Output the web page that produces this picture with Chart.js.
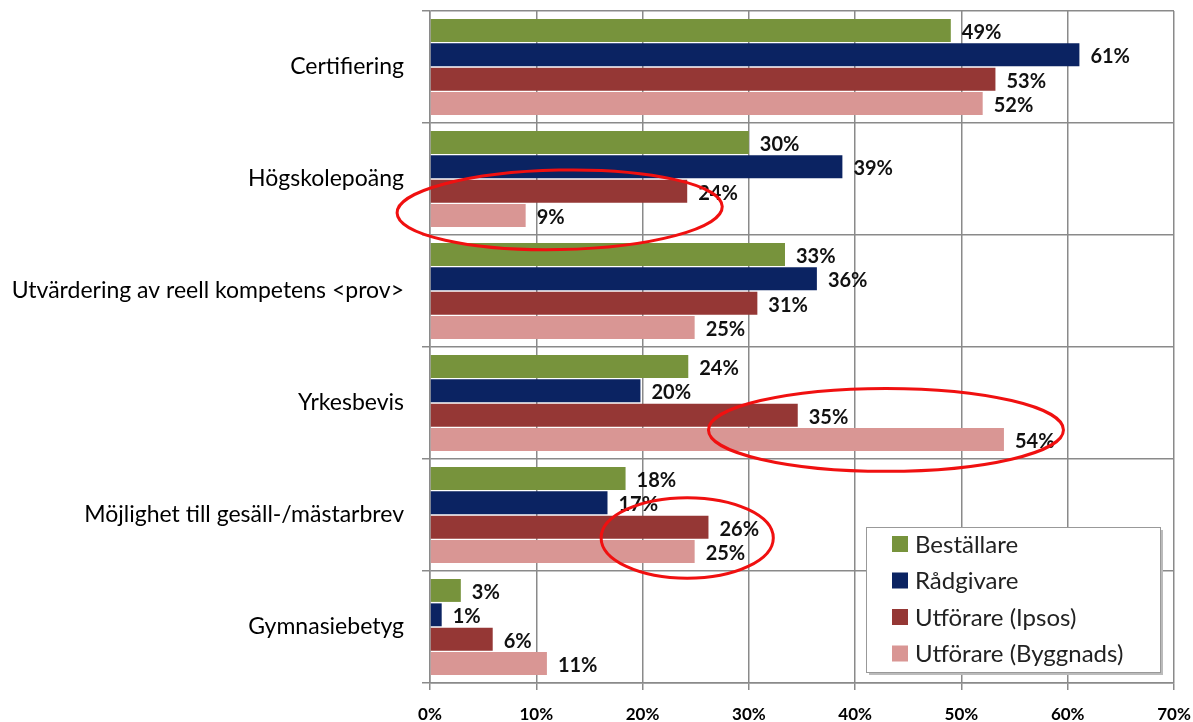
<!DOCTYPE html>
<html><head><meta charset="utf-8">
<script src="https://cdn.jsdelivr.net/npm/chart.js@4.4.1/dist/chart.umd.min.js"></script>
<style>html,body{margin:0;background:#fff}#wrap{width:1193px;height:722px}</style>
</head><body><div id="wrap"><canvas id="c"></canvas></div>
<script>
const categories = ['Certifiering', 'Högskolepoäng', 'Utvärdering av reell kompetens <prov>', 'Yrkesbevis', 'Möjlighet till gesäll-/mästarbrev', 'Gymnasiebetyg'];
const seriesNames = ['Beställare', 'Rådgivare', 'Utförare (Ipsos)', 'Utförare (Byggnads)'];
const bestallare = [49.0, 30.0, 33.4, 24.3, 18.4, 2.9];
const radgivare = [61.1, 38.8, 36.4, 19.8, 16.7, 1.1];
const ipsos = [53.2, 24.2, 30.8, 34.6, 26.2, 5.9];
const byggnads = [52.0, 9.0, 24.9, 54.0, 24.9, 11.0];
const colors = ['#77933C', '#0B2362', '#953735', '#D99694'];
const xMax = 70, xStep = 10;

// red rings drawn on top: category, centre (%), half width (%), offset & half height (share of a category band)
const ringCategory = [1, 3, 4];
const ringCenter = [12.2, 42.9, 24.2];
const ringHalfWidth = [15.3, 16.7, 8.1];
const ringOffset = [0.275, 0.24, 0.205];
const ringHalfHeight = [0.355, 0.37, 0.36];
const ringTilt = [-0.02, 0, 0];

const FONT = 'Lato, "Open Sans", sans-serif';

const valueLabels = {
  id: 'valueLabels',
  afterDatasetsDraw(chart) {
    const ctx = chart.ctx;
    ctx.save();
    ctx.font = 'bold 20px ' + FONT;
    ctx.fillStyle = '#111';
    ctx.textBaseline = 'middle';
    chart.data.datasets.forEach((d, i) => {
      chart.getDatasetMeta(i).data.forEach((bar, j) => {
        ctx.fillText(Math.round(d.data[j]) + '%', bar.x + 11, bar.y + 2);
      });
    });
    ctx.restore();
  }
};

const rings = {
  id: 'rings',
  afterDraw(chart) {
    const ctx = chart.ctx, x = chart.scales.x, y = chart.scales.y;
    const band = y.height / categories.length;
    ctx.save();
    ctx.strokeStyle = '#F01010';
    ctx.lineWidth = 3;
    ringCategory.forEach((c, i) => {
      const cx = x.getPixelForValue(ringCenter[i]);
      const rx = x.getPixelForValue(ringCenter[i] + ringHalfWidth[i]) - cx;
      const cy = y.getPixelForValue(c) + ringOffset[i] * band;
      ctx.beginPath();
      ctx.ellipse(cx, cy, rx, ringHalfHeight[i] * band, ringTilt[i], 0, Math.PI * 2);
      ctx.stroke();
    });
    ctx.restore();
  }
};

const boxLegend = {
  id: 'boxLegend',
  afterDraw(chart) {
    const ctx = chart.ctx;
    const left = 866, top = 527, w = 294, h = 145;
    ctx.save();
    ctx.fillStyle = '#bbb';
    ctx.fillRect(left + 3, top + 3, w, h);
    ctx.fillStyle = '#fff';
    ctx.fillRect(left, top, w, h);
    ctx.strokeStyle = '#999';
    ctx.lineWidth = 1;
    ctx.strokeRect(left + 0.5, top + 0.5, w, h);
    ctx.font = '24px ' + FONT;
    ctx.textBaseline = 'middle';
    seriesNames.forEach((n, i) => {
      const yy = top + 17 + i * 36.5;
      ctx.fillStyle = colors[i];
      ctx.fillRect(left + 26, yy - 8, 16, 16);
      ctx.fillStyle = '#222';
      ctx.fillText(n, left + 49, yy + 1);
    });
    ctx.restore();
  }
};

const noEdgePadding = s => { s.paddingTop = 0; s.paddingBottom = 0; s.paddingLeft = 0; s.paddingRight = 0; };

new Chart(document.getElementById('c'), {
  type: 'bar',
  data: {
    labels: categories,
    datasets: [bestallare, radgivare, ipsos, byggnads].map((d, i) => ({
      label: seriesNames[i],
      data: d,
      backgroundColor: colors[i],
      categoryPercentage: 0.87,
      barPercentage: 0.94
    }))
  },
  options: {
    indexAxis: 'y',
    responsive: true,
    maintainAspectRatio: false,
    animation: false,
    layout: { padding: { top: 11, right: 19, left: 0, bottom: 0 } },
    plugins: { legend: { display: false }, tooltip: { enabled: false } },
    scales: {
      x: {
        min: 0, max: xMax,
        afterFit: s => { s.height = 39; noEdgePadding(s); },
        ticks: { stepSize: xStep, callback: v => v + '%', color: '#000', font: { family: FONT, size: 17, weight: 'bold' }, padding: 14 },
        grid: { color: '#8a8a8a', lineWidth: 1.5, tickLength: 7 },
        border: { color: '#8a8a8a', width: 1.5 }
      },
      y: {
        afterFit: s => { s.width = 430; noEdgePadding(s); },
        ticks: { color: '#000', font: { family: FONT, size: 23 }, padding: 18 },
        grid: { color: '#8a8a8a', lineWidth: 1.5, tickLength: 8, offset: true },
        border: { color: '#8a8a8a', width: 1.5 }
      }
    }
  },
  plugins: [valueLabels, rings, boxLegend]
});
</script>
</body></html>
